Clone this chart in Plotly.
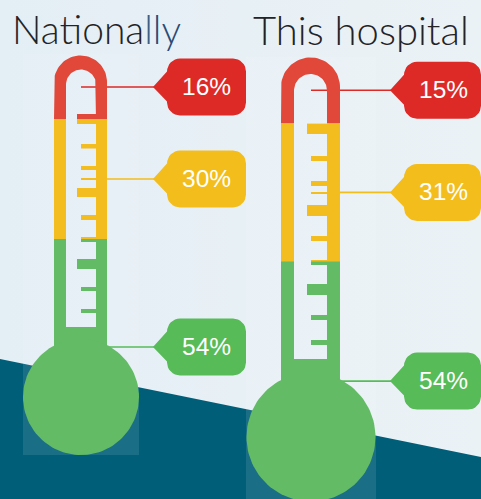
import math
import plotly.graph_objects as go

# ---- data ----
titles = ["Nationally", "This hospital"]
band_names = ["Red", "Amber", "Green"]
national_values = [16, 30, 54]
hospital_values = [15, 31, 54]

# ---- style ----
WALL = ["#e1483a", "#f3bd20", "#63bb66"]
LABEL = ["#dd2a27", "#f3bd1b", "#57bb58"]
BG_L, BG_R = "#e4eef5", "#ebf2f6"
TEAL = "#005e78"

W, H = 481, 499

# ---- geometry (pixel layout of each thermometer) ----
GEOM = [
    dict(axis="y2", values=national_values, top=55, bottom=455,
         cx=80.5, ro=26.5, ri=14.5, ycy=82, iy=84.5,
         ol=54, il=66, ir=96, orr=107,
         bulb=(81, 397, 58), shoulder=344, inner_bottom=327,
         panel=(23, 139, 54, 455),
         ticks=[(114, 124, 77), (144, 148.5, 81), (166, 170, 81), (178, 180, 81),
                (188, 197, 77), (215, 220, 81), (237, 242, 81), (259, 269, 77),
                (287, 291, 81), (309, 313, 81)],
         box=(167, 246), tip=153, lead=[81, 107, 107], text_x=206),
    dict(axis="y3", values=hospital_values, top=57, bottom=501,
         cx=310.5, ro=29.5, ri=16.5, ycy=87, iy=90.5,
         ol=281, il=294, ir=327, orr=340,
         bulb=(311, 437, 64.5), shoulder=378, inner_bottom=359,
         panel=(246, 376, 57, 501),
         ticks=[(123, 134, 307), (156, 161, 311), (181, 186, 311), (192, 194, 311),
                (205, 216, 307), (236, 241, 311), (260, 265, 311), (284, 295, 307),
                (315, 320, 311), (340, 345, 311)],
         box=(404, 481), tip=390, lead=[311, 340, 340], text_x=443),
]
TITLE_POS = [(9.5, 29, 39), (250.5, 30, 40)]

fig = go.Figure()


def poly(xs, ys, color, axis="y"):
    fig.add_trace(go.Scatter(x=xs, y=ys, yaxis=axis, mode="lines", fill="toself",
                             fillcolor=color, line=dict(width=0), hoverinfo="skip",
                             showlegend=False))


# background
fig.add_trace(go.Scatter(x=[0, W, W, 0, 0], y=[0, 0, H, H, 0], mode="lines", fill="toself",
                         line=dict(width=0), hoverinfo="skip", showlegend=False,
                         fillcolor=BG_L,
                         fillgradient=dict(type="horizontal",
                                           colorscale=[[0, BG_L], [1, BG_R]])))
poly([0, W, W, 0, 0], [359, 457, H, H, 359], TEAL)

annotations = []


def rounded_label(x0, x1, yc, tip, h=57, r=13, pw=14.5):
    """Callout outline in px, pointing left at the band midpoint."""
    y0, y1 = yc - h / 2, yc + h / 2
    pts = [(tip, yc), (x0, yc - pw)]
    for (cx, cy, a0) in [(x0 + r, y0 + r, 180), (x1 - r, y0 + r, 270),
                         (x1 - r, y1 - r, 0), (x0 + r, y1 - r, 90)]:
        for k in range(9):
            a = math.radians(a0 + k * 90 / 8)
            pts.append((cx + r * math.cos(a), cy + r * math.sin(a)))
    pts.append((x0, yc + pw))
    pts.append((tip, yc))
    return [p[0] for p in pts], [p[1] for p in pts]


for g in GEOM:
    s = (g["bottom"] - g["top"]) / 100.0
    ax = g["axis"]
    bottom = g["bottom"]
    Ps = lambda ys, b=bottom, sc=s: [(b - y) / sc for y in ys]

    # band edges on the percent axis
    vals = g["values"]
    edges = [100, 100 - vals[0], 100 - vals[0] - vals[1], 0]
    mids = [(edges[i] + edges[i + 1]) / 2 for i in range(3)]
    red_bottom_px = bottom - edges[1] * s
    amber_bottom_px = bottom - edges[2] * s

    # faint panel
    x0, x1, y0, y1 = g["panel"]
    poly([x0, x1, x1, x0, x0], Ps([y0, y0, y1, y1, y0]), "rgba(255,255,255,0.10)", ax)

    # leaders
    for i in range(3):
        fig.add_trace(go.Scatter(x=[g["lead"][i], g["tip"] + 2], y=[mids[i], mids[i]], yaxis=ax,
                                 mode="lines", line=dict(color=LABEL[i], width=1.6),
                                 hoverinfo="skip", showlegend=False))

    # arch (red band top)
    xs, ys = [g["ol"]], [red_bottom_px]
    for k in range(41):
        a = math.pi * (1 - k / 40)
        xs.append(g["cx"] + g["ro"] * math.cos(a))
        ys.append(g["ycy"] - g["ro"] * math.sin(a))
    xs += [g["orr"], g["ir"]]
    ys += [red_bottom_px, red_bottom_px]
    icx = (g["il"] + g["ir"]) / 2
    ir = (g["ir"] - g["il"]) / 2
    for k in range(41):
        a = math.pi * k / 40
        xs.append(icx + ir * math.cos(a))
        ys.append(g["iy"] - ir * math.sin(a))
    xs += [g["il"], g["ol"]]
    ys += [red_bottom_px, red_bottom_px]
    poly(xs, Ps(ys), WALL[0], ax)

    # amber walls
    for a, b in [(g["ol"], g["il"]), (g["ir"], g["orr"])]:
        poly([a, b, b, a, a], [edges[1], edges[1], edges[2], edges[2], edges[1]], WALL[1], ax)

    # green body: walls + base + bulb
    poly([g["ol"], g["il"], g["il"], g["ir"], g["ir"], g["orr"], g["orr"], g["ol"], g["ol"]],
         Ps([amber_bottom_px, amber_bottom_px, g["inner_bottom"], g["inner_bottom"],
             amber_bottom_px, amber_bottom_px, g["shoulder"] + 8, g["shoulder"] + 8, amber_bottom_px]),
         WALL[2], ax)
    bx, cy, br = g["bulb"]
    bxs = [bx + br * math.cos(2 * math.pi * k / 120) for k in range(121)]
    bys = [cy + br * math.sin(2 * math.pi * k / 120) for k in range(121)]
    poly(bxs, Ps(bys), WALL[2], ax)

    # scale ticks, coloured by the band they sit in
    bounds = [(g["top"], red_bottom_px), (red_bottom_px, amber_bottom_px), (amber_bottom_px, bottom)]
    for t0, t1, tx in g["ticks"]:
        for i, (b0, b1) in enumerate(bounds):
            a, b = max(t0, b0), min(t1, b1)
            if b > a:
                poly([tx, g["ir"], g["ir"], tx, tx], Ps([a, a, b, b, a]), WALL[i], ax)

    # callouts
    for i in range(3):
        yc = bottom - mids[i] * s
        lx, ly = rounded_label(g["box"][0], g["box"][1], yc, g["tip"])
        poly(lx, Ps(ly), LABEL[i], ax)
        annotations.append(dict(x=g["text_x"], y=mids[i] + 0.2, xref="x", yref=ax,
                                text=f"{vals[i]}%", showarrow=False,
                                font=dict(family="Liberation Sans", size=24.5, color="white"),
                                xanchor="center", yanchor="middle"))

# titles
title_text = ['Nationa<span style="color:#3f5f85">l</span><span style="color:#2b4a75">ly</span>', titles[1]]
for (tx, ty, ts), t in zip(TITLE_POS, title_text):
    annotations.append(dict(x=tx, y=ty, xref="x", yref="y", text=t,
                            showarrow=False, xanchor="left", yanchor="middle",
                            font=dict(family="Lato", size=ts, color="#232326", weight=300)))


def pct_range(g):
    s = (g["bottom"] - g["top"]) / 100.0
    return [(g["bottom"] - H) / s, g["bottom"] / s]


hidden = dict(visible=False, fixedrange=True)
fig.update_layout(
    width=W, height=H, margin=dict(l=0, r=0, t=0, b=0), showlegend=False,
    paper_bgcolor=BG_L, plot_bgcolor="rgba(0,0,0,0)", hovermode=False,
    xaxis=dict(range=[0, W], **hidden),
    yaxis=dict(range=[H, 0], **hidden),
    yaxis2=dict(range=pct_range(GEOM[0]), overlaying="y", **hidden),
    yaxis3=dict(range=pct_range(GEOM[1]), overlaying="y", **hidden),
    annotations=annotations,
)

fig.write_html("out.html", config=dict(displayModeBar=False),
               post_script="document.body.style.margin='0';document.body.style.overflow='hidden';")
